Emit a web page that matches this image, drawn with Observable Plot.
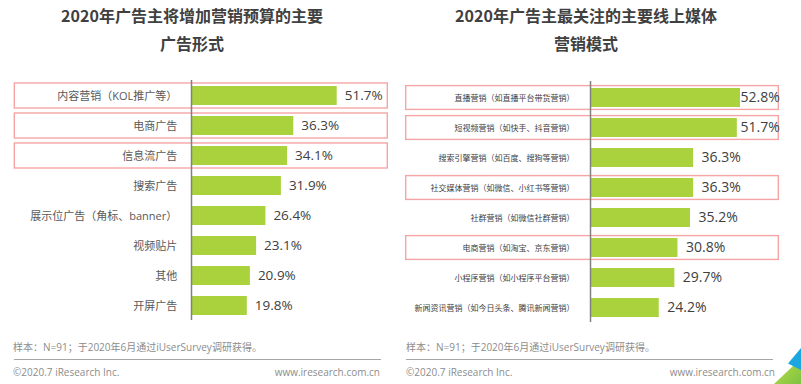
<!DOCTYPE html>
<html><head><meta charset="utf-8">
<script src="https://cdn.jsdelivr.net/npm/d3@7"></script>
<script src="https://cdn.jsdelivr.net/npm/@observablehq/plot@0.6"></script>
<style>
body{margin:0;background:#fff;font-family:"Open Sans","Noto Sans CJK SC",sans-serif;}
#page{position:relative;width:801px;height:384px;overflow:hidden;background:#fff;}
.panel{position:absolute;top:0;width:400px;height:384px;}
.title{position:absolute;top:1px;font-size:16px;font-weight:700;color:#404040;line-height:28px;text-align:center;white-space:nowrap;transform:translateX(-50%);font-family:"Noto Sans CJK SC","Open Sans",sans-serif;}
.plot{position:absolute;top:70px;left:0;}
.note{position:absolute;top:340px;font-size:10px;line-height:14px;color:#8c8c8c;white-space:nowrap;}
.hr{position:absolute;top:359px;height:0;border-top:1.5px solid #a6a6a6;}
.foot{position:absolute;top:365px;font-size:10px;line-height:14px;color:#8c8c8c;white-space:nowrap;}
.deco{position:absolute;}
</style>
</head><body>
<div id="page">
  <div class="panel" id="left">
    <div class="title" style="left:192px">2020年广告主将增加营销预算的主要<br>广告形式</div>
    <div class="plot" id="leftPlot"></div>
    <div class="note" style="left:13px">样本：N=91；于2020年6月通过iUserSurvey调研获得。</div>
    <div class="hr" style="left:14px;width:367px"></div>
    <div class="foot" style="left:13px">©2020.7 iResearch Inc.</div>
    <div class="foot" style="right:20px">www.iresearch.com.cn</div>
  </div>
  <div class="panel" id="right" style="left:400px;width:401px">
    <div class="title" style="left:186px">2020年广告主最关注的主要线上媒体<br>营销模式</div>
    <div class="plot" id="rightPlot"></div>
    <div class="note" style="left:6px">样本：N=91；于2020年6月通过iUserSurvey调研获得。</div>
    <div class="hr" style="left:6px;width:367px"></div>
    <div class="foot" style="left:6px">©2020.7 iResearch Inc.</div>
    <div class="foot" style="right:26px">www.iresearch.com.cn</div>
  </div>
  <div class="deco" style="left:774px;top:352px;width:27px;height:32px;background:linear-gradient(135deg,#c8e04a,#7cc242);clip-path:polygon(100% 20%,100% 100%,0% 100%);"></div>
  <div class="deco" style="left:788px;top:348px;width:13px;height:22px;background:#1aa7e0;clip-path:polygon(100% 0%,0% 70%,100% 100%);"></div>
</div>
<script>
const leftCategories = ["内容营销（KOL推广等）","电商广告","信息流广告","搜索广告","展示位广告（角标、banner）","视频贴片","其他","开屏广告"];
const leftValues = [51.7,36.3,34.1,31.9,26.4,23.1,20.9,19.8];
const leftHighlighted = ["内容营销（KOL推广等）","电商广告","信息流广告"];

const rightCategories = ["直播营销（如直播平台带货营销）","短视频营销（如快手、抖音营销）","搜索引擎营销（如百度、搜狗等营销）","社交媒体营销（如微信、小红书等营销）","社群营销（如微信社群营销）","电商营销（如淘宝、京东营销）","小程序营销（如小程序平台营销）","新闻资讯营销（如今日头条、腾讯新闻营销）"];
const rightValues = [52.8,51.7,36.3,36.3,35.2,30.8,29.7,24.2];
const rightHighlighted = ["直播营销（如直播平台带货营销）","短视频营销（如快手、抖音营销）","社交媒体营销（如微信、小红书等营销）","电商营销（如淘宝、京东营销）"];

function chart(o) {
  const data = o.cats.map((c, i) => ({cat: c, value: o.vals[i]}));
  const hiData = data.filter(d => o.hi.includes(d.cat));
  const xMax = 60;
  const frameRight = o.axis + xMax * o.px;
  const pad = 0.38, step = 30.2;
  const r0 = o.firstCenter - step * (1 + pad) / 2;
  const r1 = r0 + step * (o.cats.length + pad);
  const vmax = d3.max(o.vals);
  return Plot.plot({
    width: o.width, height: 260,
    marginLeft: o.axis, marginRight: o.width - frameRight,
    marginTop: o.mt, marginBottom: o.mb,
    x: {domain: [0, xMax], axis: null},
    y: {domain: o.cats, range: [r0, r1], padding: pad, axis: null},
    style: {fontFamily: '"Open Sans","Noto Sans CJK SC",sans-serif', background: "transparent", overflow: "visible"},
    marks: [
      Plot.cell(hiData, {y: "cat", fill: "none", stroke: "#f6a5a5", strokeWidth: 1.4,
        insetLeft: -(o.axis - o.boxLeft), insetRight: -(o.boxRight - frameRight),
        insetTop: -o.boxGrow, insetBottom: -o.boxGrow}),
      Plot.barX(data, {x: "value", y: "cat", fill: "#a9d23c"}),
      Plot.ruleX([0], {stroke: "#808080", strokeWidth: 1.5}),
      Plot.text(data, {y: "cat", text: "cat", frameAnchor: "left", dx: -o.labelPad, textAnchor: "end",
        fontSize: o.labelSize, fill: o.labelColor}),
      Plot.text(data, {
        x: o.clamp ? (d => Math.min(d.value + o.valueDx / o.px, vmax)) : "value",
        y: "cat", text: d => d.value.toFixed(1) + "%", textAnchor: "start",
        dx: o.clamp ? 0 : o.valueDx, fontSize: o.valueSize, fill: "#404040"})
    ]
  });
}

document.getElementById("leftPlot").append(chart({
  cats: leftCategories, vals: leftValues, hi: leftHighlighted, width: 400,
  axis: 191, px: 2.818, firstCenter: 25, mt: 10, mb: 10,
  boxLeft: 14.3, boxRight: 387.3, boxGrow: 3,
  labelPad: 14.3, labelSize: 11, labelColor: "#595959",
  valueDx: 7.5, valueSize: 13.5, clamp: false
}));
document.getElementById("rightPlot").append(chart({
  cats: rightCategories, vals: rightValues, hi: rightHighlighted, width: 401,
  axis: 190, px: 2.84, firstCenter: 26.5, mt: 11, mb: 8,
  boxLeft: 5.7, boxRight: 378.3, boxGrow: 2.4,
  labelPad: 16, labelSize: 8, labelColor: "#404040",
  valueDx: 8, valueSize: 14, clamp: true
}));
</script>
</body></html>
